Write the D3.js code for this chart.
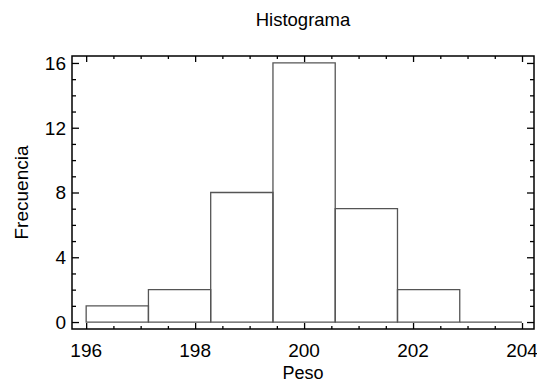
<!DOCTYPE html>
<html>
<head>
<meta charset="utf-8">
<script src="https://cdn.jsdelivr.net/npm/d3@7"></script>
<style>
  html, body { margin: 0; padding: 0; background: #fff; }
  svg { display: block; font-family: "Liberation Sans", Arial, sans-serif; }
</style>
</head>
<body>
<svg id="chart" width="537" height="382"></svg>
<script>
// Histogram of weights: 7 classes from 196 to 204
const binEdges = [196, 197.142857, 198.285714, 199.428571, 200.571429, 201.714286, 202.857143, 204];
const frequencies = [1, 2, 8, 16, 7, 2, 0];
const xTickValues = [196, 198, 200, 202, 204];
const yTickValues = [0, 4, 8, 12, 16];
const titleText = "Histograma";
const xLabel = "Peso";
const yLabel = "Frecuencia";

const svg = d3.select("#chart");
const frame = { left: 72, right: 534, top: 56, bottom: 329 };

const x = d3.scaleLinear().domain([195.74, 204.22]).range([frame.left, frame.right]);
const y = d3.scaleLinear().domain([-0.43, 16.43]).range([frame.bottom, frame.top]);

const bins = frequencies.map((f, i) => ({ x0: binEdges[i], x1: binEdges[i + 1], f }));

// bars as closed outlines so an empty class still shows its base line
svg.append("g")
  .selectAll("path")
  .data(bins)
  .join("path")
  .attr("d", d => {
    const p = d3.path();
    p.moveTo(x(d.x0), y(0));
    p.lineTo(x(d.x0), y(d.f));
    p.lineTo(x(d.x1), y(d.f));
    p.lineTo(x(d.x1), y(0));
    p.closePath();
    return p.toString();
  })
  .attr("fill", "none")
  .attr("stroke", "#555")
  .attr("stroke-width", 1.3);

// minor tick positions
const xMinor = d3.range(196, 204.01, 0.5).filter(v => !xTickValues.includes(v));
const yMinor = d3.range(0, 16.01, 1).filter(v => !yTickValues.includes(v));

const tickStyle = g => g.call(s => s.select(".domain").remove())
  .call(s => s.selectAll("line").attr("stroke", "#000").attr("stroke-width", 1.3));

// inward ticks on all four sides
const bottomMajor = d3.axisTop(x).tickValues(xTickValues).tickSize(6).tickFormat("");
const bottomMinor = d3.axisTop(x).tickValues(xMinor).tickSize(3).tickFormat("");
const topMajor = d3.axisBottom(x).tickValues(xTickValues).tickSize(6).tickFormat("");
const topMinor = d3.axisBottom(x).tickValues(xMinor).tickSize(3).tickFormat("");
const leftMajor = d3.axisRight(y).tickValues(yTickValues).tickSize(7).tickFormat("");
const leftMinor = d3.axisRight(y).tickValues(yMinor).tickSize(4).tickFormat("");
const rightMajor = d3.axisLeft(y).tickValues(yTickValues).tickSize(7).tickFormat("");
const rightMinor = d3.axisLeft(y).tickValues(yMinor).tickSize(4).tickFormat("");

svg.append("g").attr("transform", `translate(0,${frame.bottom})`).call(bottomMajor).call(tickStyle);
svg.append("g").attr("transform", `translate(0,${frame.bottom})`).call(bottomMinor).call(tickStyle);
svg.append("g").attr("transform", `translate(0,${frame.top})`).call(topMajor).call(tickStyle);
svg.append("g").attr("transform", `translate(0,${frame.top})`).call(topMinor).call(tickStyle);
svg.append("g").attr("transform", `translate(${frame.left},0)`).call(leftMajor).call(tickStyle);
svg.append("g").attr("transform", `translate(${frame.left},0)`).call(leftMinor).call(tickStyle);
svg.append("g").attr("transform", `translate(${frame.right},0)`).call(rightMajor).call(tickStyle);
svg.append("g").attr("transform", `translate(${frame.right},0)`).call(rightMinor).call(tickStyle);

// frame
svg.append("rect")
  .attr("x", frame.left).attr("y", frame.top)
  .attr("width", frame.right - frame.left).attr("height", frame.bottom - frame.top)
  .attr("fill", "none").attr("stroke", "#000").attr("stroke-width", 1.5);

// tick labels
svg.append("g").selectAll("text")
  .data(xTickValues).join("text")
  .attr("x", d => x(d)).attr("y", 357)
  .attr("text-anchor", "middle")
  .attr("font-size", 19)
  .text(d => d);

svg.append("g").selectAll("text")
  .data(yTickValues).join("text")
  .attr("x", 66).attr("y", d => y(d))
  .attr("dy", "0.36em")
  .attr("text-anchor", "end")
  .attr("font-size", 19)
  .text(d => d);

// titles
svg.append("text")
  .attr("x", 303).attr("y", 26)
  .attr("text-anchor", "middle").attr("font-size", 18.5)
  .text(titleText);

svg.append("text")
  .attr("x", 303).attr("y", 379)
  .attr("text-anchor", "middle").attr("font-size", 18)
  .text(xLabel);

svg.append("text")
  .attr("transform", `translate(28,${y(8)}) rotate(-90)`)
  .attr("text-anchor", "middle").attr("font-size", 19)
  .text(yLabel);
</script>
</body>
</html>
